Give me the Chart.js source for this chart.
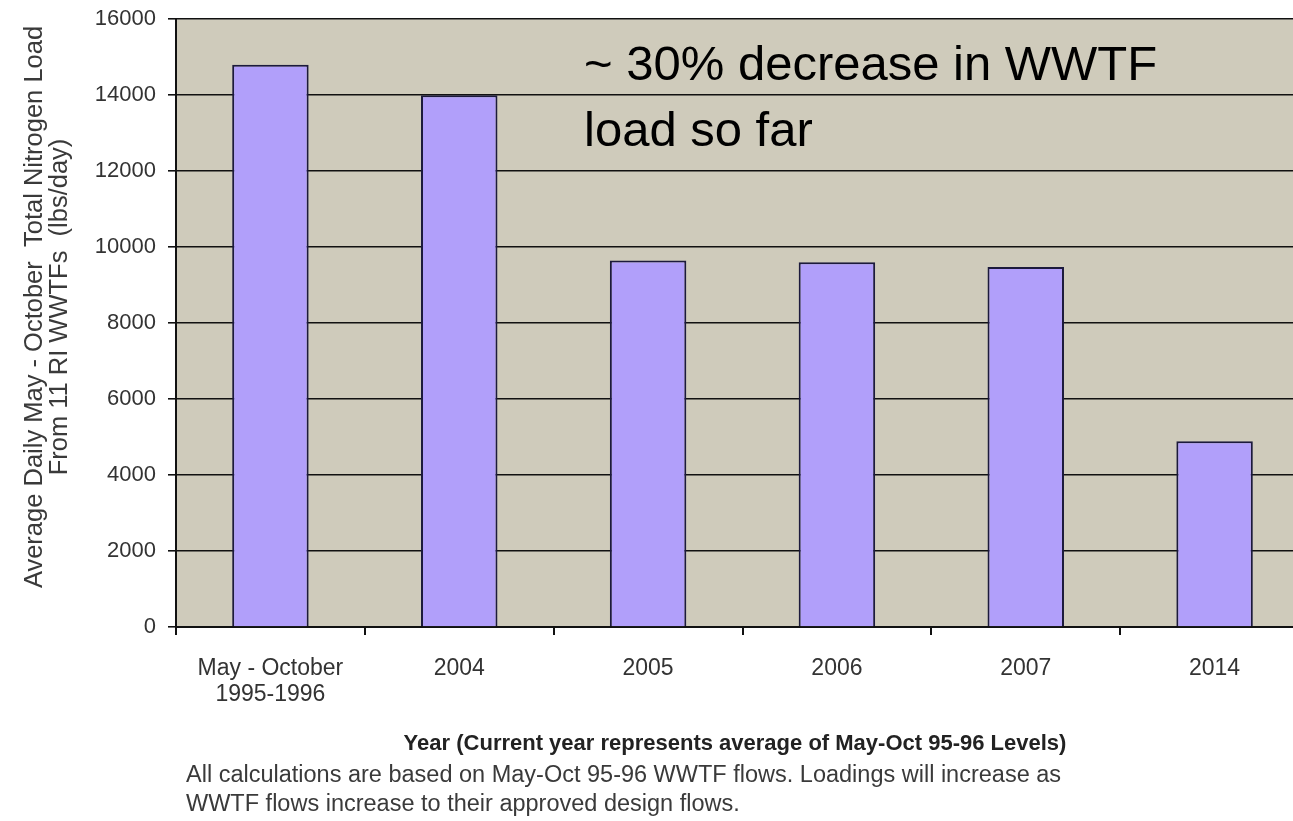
<!DOCTYPE html>
<html>
<head>
<meta charset="utf-8">
<script src="https://cdn.jsdelivr.net/npm/chart.js@4.4.1/dist/chart.umd.min.js"></script>
<style>
html,body{margin:0;padding:0;background:#fff;overflow:hidden;width:1293px;height:821px;}
#wrap{position:absolute;left:0;top:-6px;width:1320px;height:827px;}
</style>
</head>
<body>
<div id="wrap"><canvas id="c" width="1320" height="827"></canvas></div>
<script>
const categories = [["May - October","1995-1996"], "2004", "2005", "2006", "2007", "2014"];
const loadValues = [14800, 14000, 9650, 9600, 9480, 4890];
const yTicks = [0, 2000, 4000, 6000, 8000, 10000, 12000, 14000, 16000];
const yTitleLines = ["Average Daily May - October  Total Nitrogen Load", "From 11 RI WWTFs  (lbs/day)"];
const xTitle = "Year (Current year represents average of May-Oct 95-96 Levels)";
const footnoteLines = ["All calculations are based on May-Oct 95-96 WWTF flows. Loadings will increase as", "WWTF flows increase to their approved design flows."];
const annotationLines = ["~ 30% decrease in WWTF", "load so far"];

const FONT = "'Liberation Sans', Arial, sans-serif";
const OFF = 6; // canvas is shifted up by this many pixels

const decorPlugin = {
  id: 'decor',
  beforeDraw(chart) {
    const {ctx, chartArea} = chart;
    ctx.save();
    ctx.fillStyle = '#cfcbbb';
    ctx.fillRect(chartArea.left, chartArea.top, chart.width - chartArea.left, chartArea.bottom - chartArea.top);
    ctx.restore();
  },
  afterDraw(chart) {
    const {ctx} = chart;
    ctx.save();
    ctx.fillStyle = '#3a3a3a';
    ctx.font = "25.5px " + FONT;
    ctx.textAlign = 'center';
    ctx.textBaseline = 'middle';
    const cy = 307 + OFF;
    [35, 60].forEach((x, i) => {
      ctx.save();
      ctx.translate(x, cy);
      ctx.rotate(-Math.PI / 2);
      ctx.fillText(yTitleLines[i], 0, 0);
      ctx.restore();
    });
    ctx.fillStyle = '#222';
    ctx.font = "bold 22px " + FONT;
    ctx.textAlign = 'center';
    ctx.fillText(xTitle, 735, 744 + OFF);
    ctx.fillStyle = '#3a3a3a';
    ctx.font = "23.5px " + FONT;
    ctx.textAlign = 'left';
    ctx.fillText(footnoteLines[0], 186, 776 + OFF);
    ctx.fillText(footnoteLines[1], 186, 805 + OFF);
    ctx.fillStyle = '#000';
    ctx.font = "49px " + FONT;
    ctx.textBaseline = 'alphabetic';
    ctx.fillText(annotationLines[0], 584, 80 + OFF);
    ctx.fillText(annotationLines[1], 584, 146 + OFF);
    ctx.restore();
  }
};

new Chart(document.getElementById('c'), {
  type: 'bar',
  data: {
    labels: categories,
    datasets: [{
      data: loadValues,
      backgroundColor: '#b19ffa',
      borderColor: '#1c1a3c',
      borderWidth: 2,
      categoryPercentage: 1.0,
      barPercentage: 0.405
    }]
  },
  options: {
    responsive: false,
    animation: false,
    devicePixelRatio: 1,
    layout: { padding: { top: 12, right: 11, bottom: 0, left: 0 } },
    plugins: { legend: { display: false }, tooltip: { enabled: false }, title: { display: false } },
    scales: {
      x: {
        grid: { display: true, drawOnChartArea: false, offset: true, color: '#111', lineWidth: 2, tickLength: 8 },
        border: { display: true, color: '#111', width: 2 },
        ticks: { color: '#333', font: { family: FONT, size: 23, lineHeight: 1.13 }, padding: 21, maxRotation: 0, autoSkip: false },
        afterFit(scale) { scale.height = 194; }
      },
      y: {
        min: 0, max: 16000,
        afterBuildTicks(scale) { scale.ticks = yTicks.map(v => ({ value: v })); },
        grid: { color: '#111', lineWidth: 1.6, tickLength: 8, drawTicks: true },
        border: { display: true, color: '#111', width: 2 },
        ticks: { color: '#333', font: { family: FONT, size: 22 }, padding: 12, callback: v => String(v) },
        afterFit(scale) { scale.width = 176; }
      }
    }
  },
  plugins: [decorPlugin]
});
</script>
</body>
</html>
